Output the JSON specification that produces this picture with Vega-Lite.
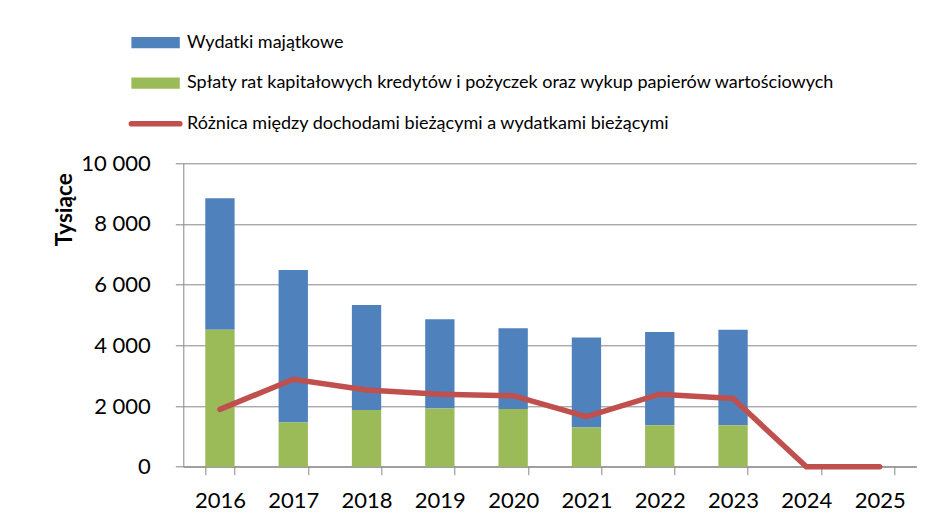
{
  "$schema": "https://vega.github.io/schema/vega-lite/v6.json",
  "width": 733,
  "height": 303.4,
  "autosize": {"type": "none"},
  "padding": {"left": 183.3, "top": 163.3, "right": 8.7, "bottom": 60.3},
  "background": "white",
  "config": {"view": {"stroke": null}, "font": "Lato"},
  "datasets": {
    "bars": [
      {"rok": "2016", "seria": "Wydatki majątkowe", "wartosc": 4331},
      {"rok": "2016", "seria": "Spłaty rat kapitałowych kredytów i pożyczek oraz wykup papierów wartościowych", "wartosc": 4515},
      {"rok": "2017", "seria": "Wydatki majątkowe", "wartosc": 5020},
      {"rok": "2017", "seria": "Spłaty rat kapitałowych kredytów i pożyczek oraz wykup papierów wartościowych", "wartosc": 1460},
      {"rok": "2018", "seria": "Wydatki majątkowe", "wartosc": 3460},
      {"rok": "2018", "seria": "Spłaty rat kapitałowych kredytów i pożyczek oraz wykup papierów wartościowych", "wartosc": 1870},
      {"rok": "2019", "seria": "Wydatki majątkowe", "wartosc": 2940},
      {"rok": "2019", "seria": "Spłaty rat kapitałowych kredytów i pożyczek oraz wykup papierów wartościowych", "wartosc": 1920},
      {"rok": "2020", "seria": "Wydatki majątkowe", "wartosc": 2660},
      {"rok": "2020", "seria": "Spłaty rat kapitałowych kredytów i pożyczek oraz wykup papierów wartościowych", "wartosc": 1900},
      {"rok": "2021", "seria": "Wydatki majątkowe", "wartosc": 2970},
      {"rok": "2021", "seria": "Spłaty rat kapitałowych kredytów i pożyczek oraz wykup papierów wartościowych", "wartosc": 1290},
      {"rok": "2022", "seria": "Wydatki majątkowe", "wartosc": 3070},
      {"rok": "2022", "seria": "Spłaty rat kapitałowych kredytów i pożyczek oraz wykup papierów wartościowych", "wartosc": 1370},
      {"rok": "2023", "seria": "Wydatki majątkowe", "wartosc": 3140},
      {"rok": "2023", "seria": "Spłaty rat kapitałowych kredytów i pożyczek oraz wykup papierów wartościowych", "wartosc": 1370}
    ],
    "linia": [
      {"rok": "2016", "seria": "Różnica między dochodami bieżącymi a  wydatkami bieżącymi", "wartosc": 1890},
      {"rok": "2017", "seria": "Różnica między dochodami bieżącymi a  wydatkami bieżącymi", "wartosc": 2880},
      {"rok": "2018", "seria": "Różnica między dochodami bieżącymi a  wydatkami bieżącymi", "wartosc": 2530},
      {"rok": "2019", "seria": "Różnica między dochodami bieżącymi a  wydatkami bieżącymi", "wartosc": 2390},
      {"rok": "2020", "seria": "Różnica między dochodami bieżącymi a  wydatkami bieżącymi", "wartosc": 2340},
      {"rok": "2021", "seria": "Różnica między dochodami bieżącymi a  wydatkami bieżącymi", "wartosc": 1650},
      {"rok": "2022", "seria": "Różnica między dochodami bieżącymi a  wydatkami bieżącymi", "wartosc": 2390},
      {"rok": "2023", "seria": "Różnica między dochodami bieżącymi a  wydatkami bieżącymi", "wartosc": 2250},
      {"rok": "2024", "seria": "Różnica między dochodami bieżącymi a  wydatkami bieżącymi", "wartosc": 0},
      {"rok": "2025", "seria": "Różnica między dochodami bieżącymi a  wydatkami bieżącymi", "wartosc": 0}
    ]
  },
  "encoding": {
    "x": {
      "field": "rok",
      "type": "ordinal",
      "scale": {
        "domain": ["2016", "2017", "2018", "2019", "2020", "2021", "2022", "2023", "2024", "2025"],
        "paddingInner": 0.6,
        "paddingOuter": 0.3
      },
      "axis": {
        "title": null,
        "labelAngle": 0,
        "labelFont": "Lato",
        "labelFontSize": 22,
        "labelColor": "black",
        "labelPadding": 16,
        "tickSize": 8,
        "tickBand": "extent",
        "tickColor": "#868686",
        "domainColor": "#868686",
        "grid": false
      }
    }
  },
  "layer": [
    {
      "data": {"name": "bars"},
      "mark": {"type": "bar"},
      "encoding": {
        "y": {
          "field": "wartosc",
          "type": "quantitative",
          "stack": "zero",
          "scale": {"domain": [0, 10000], "nice": false},
          "axis": {
            "title": "Tysiące",
            "titleFont": "Lato",
            "titleFontWeight": "bold",
            "titleFontSize": 22.5,
            "titleColor": "black",
            "titleAngle": -90,
            "titleX": -119,
            "titleY": 46,
            "titleAlign": "center",
            "titleBaseline": "middle",
            "values": [0, 2000, 4000, 6000, 8000, 10000],
            "labelExpr": "replace(format(datum.value, ','), ',', ' ')",
            "labelFont": "Lato",
            "labelFontSize": 22,
            "labelColor": "black",
            "labelPadding": 25,
            "tickSize": 8,
            "tickColor": "#868686",
            "domainColor": "#868686",
            "grid": true,
            "gridColor": "#868686"
          }
        },
        "order": {"field": "seria", "sort": "ascending"},
        "color": {
          "field": "seria",
          "type": "nominal",
          "scale": {
            "domain": ["Wydatki majątkowe", "Spłaty rat kapitałowych kredytów i pożyczek oraz wykup papierów wartościowych", "Różnica między dochodami bieżącymi a  wydatkami bieżącymi"],
            "range": ["#4F81BD", "#9BBB59", "#C0504D"]
          },
          "legend": {
            "orient": "none",
            "legendX": -36.7,
            "legendY": -129.6,
            "title": null,
            "padding": 0,
            "symbolType": "stroke",
            "symbolSize": 2343,
            "symbolStrokeWidth": 11.3,
            "labelFont": "Lato",
            "labelFontSize": 18,
            "labelColor": "black",
            "labelOffset": 22.4,
            "labelLimit": 1000,
            "gridAlign": "all",
            "rowPadding": -5.5,
            "encode": {
              "symbols": {
                "update": {
                  "stroke": {"scale": "color", "field": "value"},
                  "fill": {"value": "transparent"},
                  "opacity": {"value": 1},
                  "strokeWidth": {"signal": "datum.index == 2 ? 5.6 : 11.3"},
                  "strokeCap": {"signal": "datum.index == 2 ? 'round' : 'butt'"}
                }
              }
            }
          }
        }
      }
    },
    {
      "data": {"name": "linia"},
      "mark": {"type": "line", "strokeWidth": 5.5, "strokeCap": "round", "strokeJoin": "miter"},
      "encoding": {
        "y": {"field": "wartosc", "type": "quantitative"},
        "color": {"field": "seria", "type": "nominal"}
      }
    }
  ]
}
